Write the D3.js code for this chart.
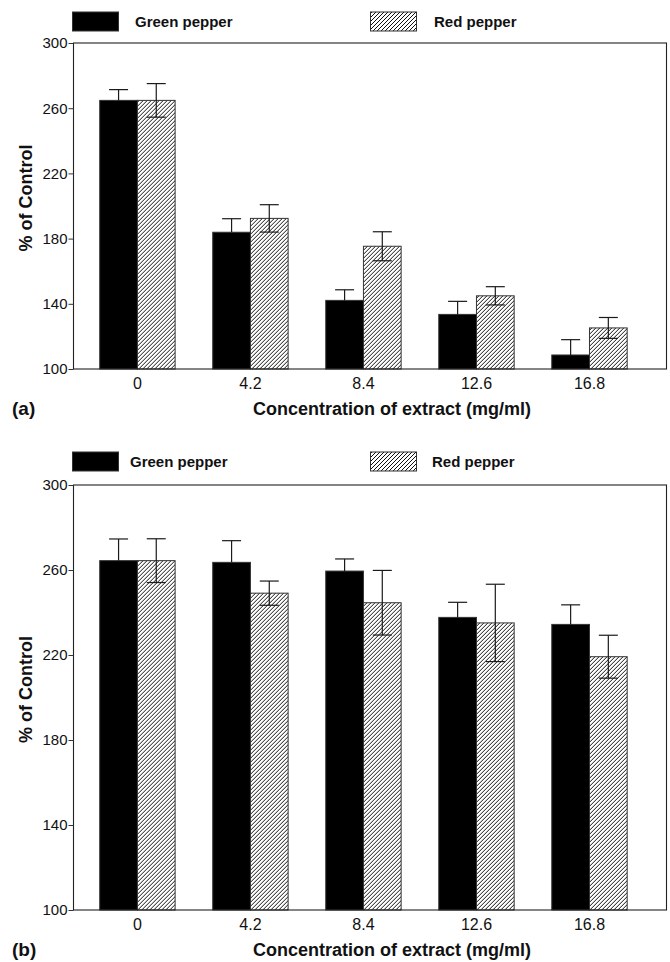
<!DOCTYPE html>
<html>
<head>
<meta charset="utf-8">
<script src="https://cdn.jsdelivr.net/npm/d3@7/dist/d3.min.js"></script>
<style>
  html, body { margin: 0; padding: 0; background: #fff; }
  svg { display: block; font-family: "Liberation Sans", Arial, Helvetica, sans-serif; }
</style>
</head>
<body>
<svg id="chart" width="670" height="962"></svg>
<script>
// ---- Data ----
const categories = ["0", "4.2", "8.4", "12.6", "16.8"];
const seriesNames = ["Green pepper", "Red pepper"];
const yTicks = [100, 140, 180, 220, 260, 300];

// Panel (a)
const aGreen    = [264.8, 183.9, 142.1, 133.5, 108.6];
const aGreenErr = [6.6, 8.3, 6.5, 8.0, 9.4];
const aRed      = [264.8, 192.4, 175.3, 144.9, 125.2];
const aRedErr   = [10.3, 8.4, 8.9, 5.6, 6.4];

// Panel (b)
const bGreen    = [264.4, 263.6, 259.5, 237.7, 234.4];
const bGreenErr = [10.2, 10.2, 5.7, 7.1, 9.2];
const bRed      = [264.4, 249.1, 244.6, 235.1, 219.2];
const bRedErr   = [10.3, 5.7, 15.2, 18.2, 10.1];

const xTitle = "Concentration of extract (mg/ml)";
const yTitle = "% of Control";

const svg = d3.select("#chart");

// hatch pattern
const defs = svg.append("defs");
const pat = defs.append("pattern")
  .attr("id", "hatch")
  .attr("patternUnits", "userSpaceOnUse")
  .attr("width", 4).attr("height", 4);
pat.append("rect").attr("width", 4).attr("height", 4).attr("fill", "#fff");
pat.append("path")
  .attr("d", "M-1,1 l2,-2 M0,4 l4,-4 M3,5 l2,-2")
  .attr("stroke", "#111").attr("stroke-width", 1);

const fills = ["#000", "url(#hatch)"];

function drawPanel(cfg) {
  const g = svg.append("g");
  const left = 73.5, right = 666.5;

  const x = d3.scaleBand().domain(categories)
    .range([left, right]).paddingInner(0.333).paddingOuter(0.29).align(0.4);
  const xs = d3.scaleBand().domain(seriesNames).range([0, x.bandwidth()]).padding(0);
  const y = d3.scaleLinear().domain([100, 300]).range([cfg.bottom, cfg.top]);

  const rows = categories.map((c, i) => ({
    cat: c,
    vals: [
      {s: seriesNames[0], v: cfg.green[i], e: cfg.greenErr[i], lower: false},
      {s: seriesNames[1], v: cfg.red[i],   e: cfg.redErr[i],   lower: true}
    ]
  }));

  // bars
  const grp = g.selectAll("g.grp").data(rows).join("g")
    .attr("class", "grp")
    .attr("transform", d => `translate(${x(d.cat)},0)`);

  grp.selectAll("rect").data(d => d.vals).join("rect")
    .attr("x", d => xs(d.s))
    .attr("y", d => y(d.v))
    .attr("width", xs.bandwidth())
    .attr("height", d => y(100) - y(d.v))
    .attr("fill", (d, i) => fills[i])
    .attr("stroke", "#333")
    .attr("stroke-width", 1);

  // error bars (green: upper whisker only, lower hidden in black bar)
  const cap = 9.5;
  const eb = grp.selectAll("g.eb").data(d => d.vals).join("g").attr("class", "eb");
  const cx = d => xs(d.s) + xs.bandwidth() / 2;
  eb.append("line")
    .attr("x1", cx).attr("x2", cx)
    .attr("y1", d => y(d.v + d.e))
    .attr("y2", d => d.lower ? y(d.v - d.e) : y(d.v));
  eb.append("line")
    .attr("x1", d => cx(d) - cap).attr("x2", d => cx(d) + cap)
    .attr("y1", d => y(d.v + d.e)).attr("y2", d => y(d.v + d.e));
  eb.filter(d => d.lower).append("line")
    .attr("x1", d => cx(d) - cap).attr("x2", d => cx(d) + cap)
    .attr("y1", d => y(d.v - d.e)).attr("y2", d => y(d.v - d.e));
  eb.selectAll("line").attr("stroke", "#1a1a1a").attr("stroke-width", 1.2);

  // frame
  g.append("rect")
    .attr("x", left).attr("y", cfg.top)
    .attr("width", right - left).attr("height", cfg.bottom - cfg.top)
    .attr("fill", "none").attr("stroke", "#222").attr("stroke-width", 1.1);

  // y axis
  const ya = g.append("g").attr("transform", `translate(${left},0)`)
    .call(d3.axisLeft(y).tickValues(yTicks).tickSize(5).tickPadding(1).tickFormat(d3.format("d")));
  ya.select(".domain").remove();
  ya.selectAll("line").attr("stroke", "#333");
  ya.selectAll("text").attr("font-size", 15).attr("fill", "#111")
    .attr("font-family", "'Liberation Sans', Arial, sans-serif");

  // x axis
  const xa = g.append("g").attr("transform", `translate(0,${cfg.bottom})`)
    .call(d3.axisBottom(x).tickSize(0).tickPadding(9));
  xa.select(".domain").remove();
  xa.selectAll("text").attr("font-size", 16).attr("fill", "#111")
    .attr("font-family", "'Liberation Sans', Arial, sans-serif");

  // titles
  g.append("text")
    .attr("x", 392).attr("y", cfg.bottom + 46)
    .attr("text-anchor", "middle")
    .attr("font-size", 18).attr("font-weight", "bold").attr("fill", "#111")
    .text(xTitle);
  g.append("text")
    .attr("x", 12).attr("y", cfg.bottom + 46)
    .attr("font-size", 19).attr("font-weight", "bold").attr("fill", "#111")
    .text(cfg.label);
  g.append("text")
    .attr("transform", `translate(31.5,${(cfg.top + cfg.bottom) / 2 - 8}) rotate(-90)`)
    .attr("text-anchor", "middle")
    .attr("font-size", 18).attr("font-weight", "bold").attr("fill", "#111")
    .text(yTitle);

  // legend
  const lg = g.append("g");
  const legX = [72.5, 370.5];
  const legTextX = cfg.legTextX;
  seriesNames.forEach((s, i) => {
    lg.append("rect")
      .attr("x", legX[i]).attr("y", cfg.legY)
      .attr("width", 46).attr("height", 19)
      .attr("fill", fills[i]).attr("stroke", "#333").attr("stroke-width", 1);
    lg.append("text")
      .attr("x", legTextX[i]).attr("y", cfg.legY + 15)
      .attr("font-size", 15).attr("font-weight", "bold").attr("fill", "#111")
      .text(s);
  });
}

drawPanel({
  top: 43, bottom: 369, label: "(a)",
  green: aGreen, greenErr: aGreenErr, red: aRed, redErr: aRedErr,
  legY: 12, legTextX: [135, 434]
});
drawPanel({
  top: 485, bottom: 910, label: "(b)",
  green: bGreen, greenErr: bGreenErr, red: bRed, redErr: bRedErr,
  legY: 452, legTextX: [130, 432]
});
</script>
</body>
</html>
